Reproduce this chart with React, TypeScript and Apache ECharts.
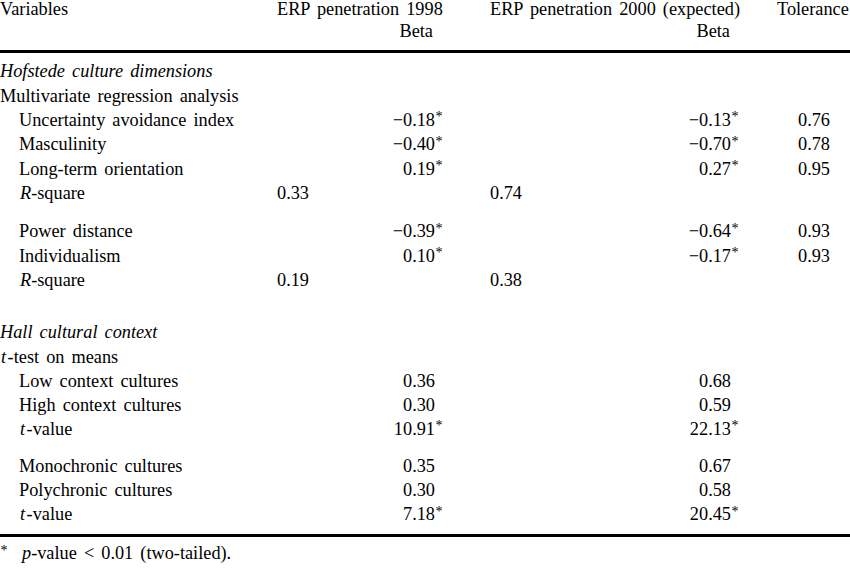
import React, { useEffect, useRef } from "react";
import * as echarts from "echarts";

// ---- Data ----
const headerLabels = ["Variables", "ERP penetration 1998", "ERP penetration 2000 (expected)", "Tolerance"];
const subHeaderLabels = ["Beta", "Beta"];

const hofstedeTitle = "Hofstede culture dimensions";
const hofstedeMethod = "Multivariate regression analysis";
const hofstedeVars1 = ["Uncertainty avoidance index", "Masculinity", "Long-term orientation"];
const beta1998Set1 = [-0.18, -0.4, 0.19];
const beta2000Set1 = [-0.13, -0.7, 0.27];
const toleranceSet1 = [0.76, 0.78, 0.95];
const hofstedeVars2 = ["Power distance", "Individualism"];
const beta1998Set2 = [-0.39, 0.1];
const beta2000Set2 = [-0.64, -0.17];
const toleranceSet2 = [0.93, 0.93];
const rSquare1998 = [0.33, 0.19];
const rSquare2000 = [0.74, 0.38];

const hallTitle = "Hall cultural context";
const hallGroups1 = ["Low context cultures", "High context cultures"];
const hallMeans1998Set1 = [0.36, 0.3];
const hallMeans2000Set1 = [0.68, 0.59];
const hallGroups2 = ["Monochronic cultures", "Polychronic cultures"];
const hallMeans1998Set2 = [0.35, 0.3];
const hallMeans2000Set2 = [0.67, 0.58];
const tValue1998 = [10.91, 7.18];
const tValue2000 = [22.13, 20.45];

const rSquareLabel = ["R", "-square"];
const tTestLabel = ["t", "\u200A-test on means"];
const tValueLabel = ["t", "\u200A-value"];
const footnoteLabel = ["p", "-value < 0.01 (two-tailed)."];

// ---- Layout ----
const FONT = "Liberation Serif";
const FS = 18.3;
const X_LABEL = 0;
const X_INDENT = 19;
const X_C1_RIGHT = 435;
const X_C1_LEFT = 277;
const X_C2_RIGHT = 731;
const X_C2_LEFT = 490;
const X_TOL_RIGHT = 830;

const fmt = (n: number) => (n < 0 ? "\u2212" : "") + Math.abs(n).toFixed(2);

export default function App() {
  const ref = useRef<HTMLDivElement>(null);
  useEffect(() => {
    if (!ref.current) return;
    const chart = echarts.init(ref.current, null, { renderer: "svg" });
    const els: any[] = [];
    const base = { fill: "#000", fontFamily: FONT, fontSize: FS };
    const rich = {
      i: { ...base, fontStyle: "italic" },
      n: { ...base, fontStyle: "normal" },
    };
    const txt = (x: number, b: number, text: string, align: string = "left", extra: any = {}) => {
      els.push({
        type: "text",
        x,
        y: b - 6,
        silent: true,
        style: {
          text,
          ...base,
          align,
          verticalAlign: "middle",
          ...extra,
        },
      });
    };
    const mixed = (x: number, b: number, parts: string[]) => {
      els.push({
        type: "text",
        x,
        y: b - 6,
        silent: true,
        style: {
          text: `{i|${parts[0]}}{n|${parts[1]}}`,
          ...base,
          align: "left",
          verticalAlign: "middle",
          rich,
        },
      });
    };
    const star = (x: number, b: number) => {
      els.push({
        type: "text",
        x: x + 0.5,
        y: b - 9,
        silent: true,
        style: { text: "*", fill: "#000", fontFamily: FONT, fontSize: 14, align: "left", verticalAlign: "middle" },
      });
    };
    const num = (xr: number, b: number, v: number, sig: boolean) => {
      txt(xr, b, fmt(v), "right");
      if (sig) star(xr, b);
    };
    const hline = (y: number) => {
      els.push({
        type: "line",
        silent: true,
        shape: { x1: 0, y1: y, x2: 850, y2: y },
        style: { stroke: "#000", lineWidth: 3 },
      });
    };

    // header
    txt(X_LABEL, 15, headerLabels[0]);
    txt(X_C1_LEFT, 15, headerLabels[1]);
    txt(X_C2_LEFT, 15, headerLabels[2]);
    txt(777, 15, headerLabels[3]);
    txt(433, 37, subHeaderLabels[0], "right");
    txt(730, 37, subHeaderLabels[1], "right");
    hline(51.5);

    // Hofstede
    txt(X_LABEL, 77, hofstedeTitle, "left", { fontStyle: "italic" });
    txt(X_LABEL, 101.5, hofstedeMethod);
    const set1Base = [125.5, 150, 174.5];
    hofstedeVars1.forEach((v, i) => {
      const b = set1Base[i];
      txt(X_INDENT, b, v);
      num(X_C1_RIGHT, b, beta1998Set1[i], true);
      num(X_C2_RIGHT, b, beta2000Set1[i], true);
      txt(X_TOL_RIGHT, b, toleranceSet1[i].toFixed(2), "right");
    });
    mixed(X_INDENT + 1, 199, rSquareLabel);
    txt(X_C1_LEFT, 199, rSquare1998[0].toFixed(2));
    txt(X_C2_LEFT, 199, rSquare2000[0].toFixed(2));

    const set2Base = [237, 261.5];
    hofstedeVars2.forEach((v, i) => {
      const b = set2Base[i];
      txt(X_INDENT, b, v);
      num(X_C1_RIGHT, b, beta1998Set2[i], true);
      num(X_C2_RIGHT, b, beta2000Set2[i], true);
      txt(X_TOL_RIGHT, b, toleranceSet2[i].toFixed(2), "right");
    });
    mixed(X_INDENT + 1, 286, rSquareLabel);
    txt(X_C1_LEFT, 286, rSquare1998[1].toFixed(2));
    txt(X_C2_LEFT, 286, rSquare2000[1].toFixed(2));

    // Hall
    txt(X_LABEL, 338, hallTitle, "left", { fontStyle: "italic" });
    mixed(X_LABEL + 1, 362.5, tTestLabel);
    const hall1Base = [386.5, 410.5];
    hallGroups1.forEach((g, i) => {
      const b = hall1Base[i];
      txt(X_INDENT, b, g);
      num(X_C1_RIGHT, b, hallMeans1998Set1[i], false);
      num(X_C2_RIGHT, b, hallMeans2000Set1[i], false);
    });
    mixed(X_INDENT + 1, 434.5, tValueLabel);
    num(X_C1_RIGHT, 434.5, tValue1998[0], true);
    num(X_C2_RIGHT, 434.5, tValue2000[0], true);

    const hall2Base = [471.5, 495.5];
    hallGroups2.forEach((g, i) => {
      const b = hall2Base[i];
      txt(X_INDENT, b, g);
      num(X_C1_RIGHT, b, hallMeans1998Set2[i], false);
      num(X_C2_RIGHT, b, hallMeans2000Set2[i], false);
    });
    mixed(X_INDENT + 1, 520, tValueLabel);
    num(X_C1_RIGHT, 520, tValue1998[1], true);
    num(X_C2_RIGHT, 520, tValue2000[1], true);
    hline(535.5);

    // footnote
    star(0, 559);
    mixed(22, 559, footnoteLabel);

    chart.setOption({
      animation: false,
      backgroundColor: "#fff",
      graphic: { elements: els },
    });
    return () => chart.dispose();
  }, []);
  return (
    <>
      <style>{`.tbl svg text { word-spacing: 2.5px; }`}</style>
      <div
        ref={ref}
        className="tbl"
        style={{ position: "fixed", left: 0, top: 0, width: 850, height: 570, background: "#fff" }}
      />
    </>
  );
}
